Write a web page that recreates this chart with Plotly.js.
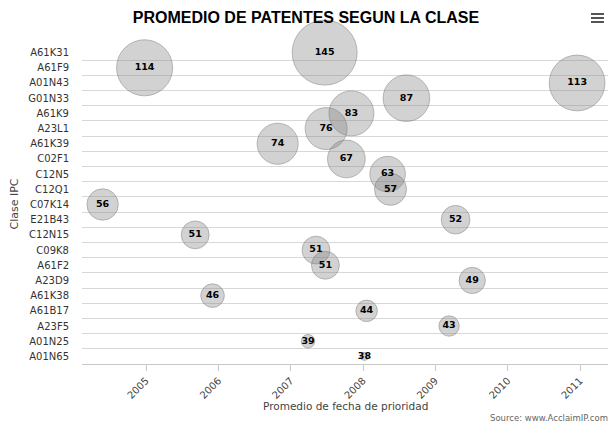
<!DOCTYPE html>
<html>
<head>
<meta charset="utf-8">
<script src="https://cdn.plot.ly/plotly-3.0.1.min.js"></script>
<style>html,body{margin:0;padding:0;background:#fff;}#chart{width:612px;height:422px;}</style>
</head>
<body>
<div id="chart"></div>
<script>
// IPC classes (top to bottom)
const categories = ["A61K31","A61F9","A01N43","G01N33","A61K9","A23L1","A61K39","C02F1","C12N5","C12Q1","C07K14","E21B43","C12N15","C09K8","A61F2","A23D9","A61K38","A61B17","A23F5","A01N25","A01N65"];
// average priority date (year) per class
const avgPriorityYear = [2007.47,2004.98,2010.96,2008.60,2007.84,2007.49,2006.82,2007.77,2008.34,2008.38,2004.40,2009.28,2005.68,2007.35,2007.48,2009.51,2005.92,2008.05,2009.19,2007.24,2008.02];
// number of patents per class (bubble size / label)
const patentCount = [145,114,113,87,83,76,74,67,63,57,56,52,51,51,51,49,46,44,43,39,38];
const xTickYears = [2005,2006,2007,2008,2009,2010,2011];

const zMin = Math.min(...patentCount), zMax = Math.max(...patentCount);
const MIN_D = 8, MAX_D = 65;
const sizes = patentCount.map(v => MIN_D + Math.sqrt((v - zMin) / (zMax - zMin)) * (MAX_D - MIN_D));

const L = 82, R = 4, T = 45, B = 58, W = 612, H = 422;
const pw = W - L - R, ph = H - T - B;
const px = x => (x - L) / pw;
const py = y => (H - B - y) / ph;

const trace = {
  type: 'scatter',
  mode: 'markers+text',
  x: avgPriorityYear,
  y: categories,
  text: patentCount.map(String),
  textposition: 'middle center',
  textfont: {family: 'DejaVu Sans', size: 9.5, color: '#000', weight: 700},
  marker: {
    size: sizes,
    sizemode: 'diameter',
    color: 'rgba(128,128,128,0.5)',
    line: {color: 'rgba(115,115,115,0.7)', width: 1}
  },
  hoverinfo: 'x+y+text',
  cliponaxis: false,
  showlegend: false
};

const menuShapes = [14, 18, 22].map(yy => ({
  type: 'line', xref: 'paper', yref: 'paper',
  x0: px(591), x1: px(604), y0: py(yy), y1: py(yy),
  line: {color: '#555', width: 2}
}));

const layout = {
  width: W, height: H,
  margin: {l: L, r: R, t: T, b: B},
  paper_bgcolor: '#fff', plot_bgcolor: '#fff',
  font: {family: 'DejaVu Sans', color: '#333'},
  title: {
    text: 'PROMEDIO DE PATENTES SEGUN LA CLASE',
    font: {family: 'Liberation Sans', size: 16, color: '#000', weight: 700},
    xref: 'container', x: 0.5, xanchor: 'center',
    yref: 'container', y: 1 - 17 / H, yanchor: 'middle'
  },
  xaxis: {
    range: [2004.115, 2011.387],
    tickmode: 'array', tickvals: xTickYears, ticktext: xTickYears.map(String),
    tickangle: -45,
    tickfont: {family: 'DejaVu Sans', size: 10, color: '#444'},
    ticks: 'outside', ticklen: 6, tickcolor: '#c8c8c8',
    showgrid: false, zeroline: false,
    showline: true, linecolor: '#c8c8c8', linewidth: 1
  },
  yaxis: {
    type: 'category',
    categoryorder: 'array', categoryarray: categories,
    range: [categories.length - 0.5, -0.5],
    tickson: 'boundaries',
    ticks: '',
    ticklabelstandoff: 12,
    tickfont: {family: 'DejaVu Sans', size: 10, color: '#333'},
    showgrid: true, gridcolor: '#d8d8d8', gridwidth: 1,
    zeroline: false, showline: false
  },
  shapes: menuShapes,
  annotations: [
    {text: 'Clase IPC', xref: 'paper', yref: 'paper', x: 0, y: 0.5, xshift: -68,
     xanchor: 'center', yanchor: 'middle', textangle: -90, showarrow: false,
     font: {family: 'DejaVu Sans', size: 11, color: '#444'}},
    {text: 'Promedio de fecha de prioridad', xref: 'paper', yref: 'paper', x: 0.5, y: 0, yshift: -42,
     xanchor: 'center', yanchor: 'middle', showarrow: false,
     font: {family: 'DejaVu Sans', size: 10.5, color: '#444'}},
    {text: 'Source: www.AcclaimIP.com', xref: 'paper', yref: 'paper', x: 1, y: 0, xshift: 2, yshift: -54,
     xanchor: 'right', yanchor: 'middle', showarrow: false,
     font: {family: 'DejaVu Sans', size: 8.5, color: '#666'}}
  ]
};

Plotly.newPlot('chart', [trace], layout, {displayModeBar: false, staticPlot: true});
</script>
</body>
</html>
